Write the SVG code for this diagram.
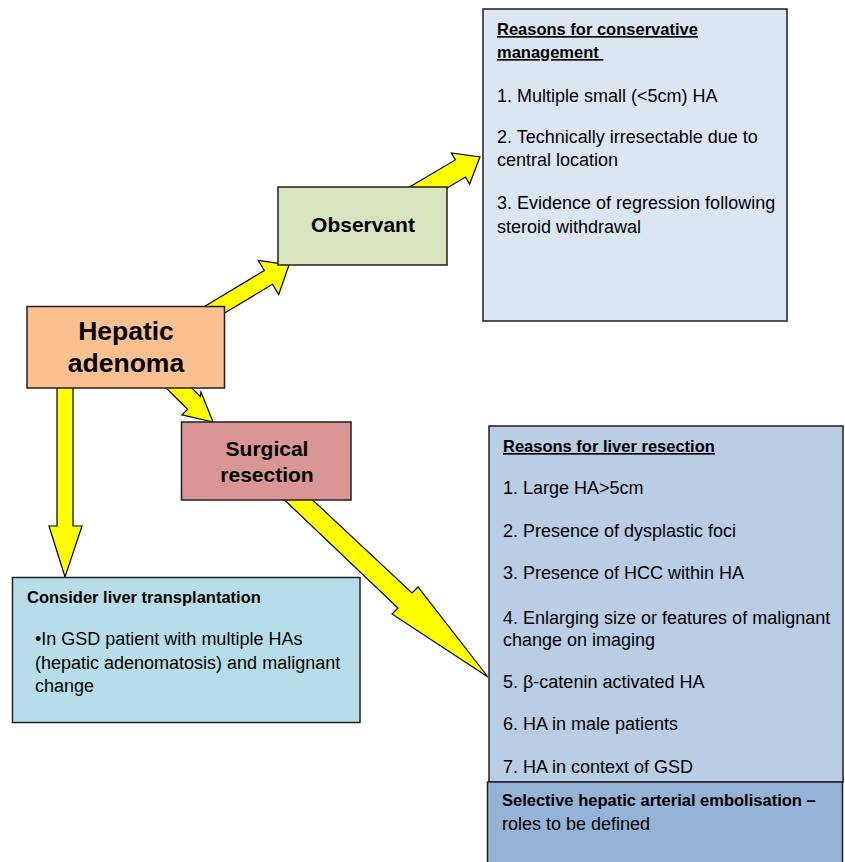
<svg xmlns="http://www.w3.org/2000/svg" width="845" height="862" viewBox="0 0 845 862">
<style>
.box{stroke:#231f20;stroke-width:1.5}
.arr{fill:#ffff00;stroke:#000;stroke-width:1.2;stroke-linejoin:miter}
text{font-family:"Liberation Sans",Arial,Helvetica,sans-serif;fill:#000}
.title{font-weight:bold;text-anchor:middle}
.h{font-weight:bold;font-size:16.5px}
.b{font-size:18px}
.u{text-decoration:underline}
</style>
<rect width="845" height="862" fill="#ffffff"/>
<g id="connectors">
<polygon class="arr" points="195.7,311.7 264.3,270.5 258.1,260.3 289,265 278.7,294.5 272.5,284.3 203.9,325.5"/>
<polygon class="arr" points="395.1,195.5 455.4,159.9 451.4,153 480,157 469.6,184 465.6,177.1 405.3,212.7"/>
<polygon class="arr" points="159.2,381 187.5,409.3 181.9,414.9 213,422 201,392 200.3,396.5 172,368.2"/>
<polygon class="arr" points="57,380 57,526 49,526 65,577 82,526 73,526 73,380"/>
<polygon class="arr" points="274,490 398,608 392,614 488,677 418,587 412,593 302,490"/>
</g>
<g id="conservative">
<rect class="box" x="483" y="9" width="304" height="312" fill="#dce6f2"/>
<text class="h u" x="497" y="35">Reasons for conservative</text>
<text class="h u" x="497" y="58" xml:space="preserve">management </text>
<text class="b" x="497" y="102">1. Multiple small (&lt;5cm) HA</text>
<text class="b" x="497" y="143">2. Technically irresectable due to</text>
<text class="b" x="497" y="166">central location</text>
<text class="b" x="497" y="209">3. Evidence of regression following</text>
<text class="b" x="497" y="233">steroid withdrawal</text>
</g>
<g id="observant">
<rect class="box" x="278" y="187" width="169" height="78" fill="#d7e4bd"/>
<text class="title" x="363" y="232" font-size="21">Observant</text>
</g>
<g id="hepatic">
<rect class="box" x="27" y="306.5" width="197.5" height="81.5" fill="#fac090"/>
<text class="title" x="126" y="339.5" font-size="26.5">Hepatic</text>
<text class="title" x="126" y="371.5" font-size="26.5">adenoma</text>
</g>
<g id="surgical">
<rect class="box" x="181.5" y="422" width="169.5" height="78" fill="#d99694"/>
<text class="title" x="267" y="456" font-size="21">Surgical</text>
<text class="title" x="267" y="482" font-size="21">resection</text>
</g>
<g id="transplant">
<rect class="box" x="12.5" y="577.5" width="347.5" height="145" fill="#b7dee8"/>
<text class="h" x="27" y="603">Consider liver transplantation</text>
<text class="b" x="35" y="645">•In GSD patient with multiple HAs</text>
<text class="b" x="35" y="669">(hepatic adenomatosis) and malignant</text>
<text class="b" x="35" y="692">change</text>
</g>
<g id="resection">
<rect class="box" x="489" y="426" width="354" height="356" fill="#b9cde5"/>
<text class="h u" x="503" y="452">Reasons for liver resection</text>
<text class="b" x="503" y="494">1. Large HA&gt;5cm</text>
<text class="b" x="503" y="537">2. Presence of dysplastic foci</text>
<text class="b" x="503" y="579">3. Presence of HCC within HA</text>
<text class="b" x="503" y="624">4. Enlarging size or features of malignant</text>
<text class="b" x="503" y="646">change on imaging</text>
<text class="b" x="503" y="688">5. β-catenin activated HA</text>
<text class="b" x="503" y="730">6. HA in male patients</text>
<text class="b" x="503" y="773">7. HA in context of GSD</text>
</g>
<g id="embolisation">
<rect class="box" x="487.5" y="782" width="355" height="90" fill="#95b3d7"/>
<text class="h" x="502" y="806">Selective hepatic arterial embolisation –</text>
<text class="b" x="502" y="830">roles to be defined</text>
</g>
</svg>
